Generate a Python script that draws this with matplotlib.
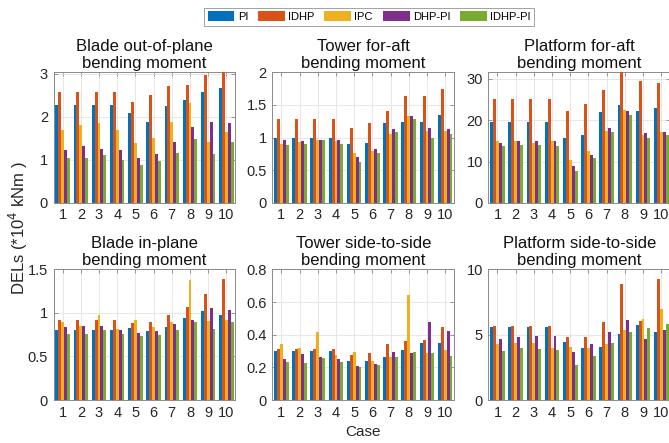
import numpy as np
import matplotlib
matplotlib.use("Agg")
import matplotlib.pyplot as plt
from matplotlib.ticker import FuncFormatter

plt.rcParams['font.family'] = ['Liberation Sans', 'DejaVu Sans']

cases = [1, 2, 3, 4, 5, 6, 7, 8, 9, 10]
controllers = ['PI', 'IDHP', 'IPC', 'DHP-PI', 'IDHP-PI']
colors = ['#0072BD', '#D95319', '#EDB120', '#7E2F8E', '#77AC30']

# rows follow the controller order: PI, IDHP, IPC, DHP-PI, IDHP-PI
blade_oop = [
    [2.28, 2.28, 2.28, 2.28, 2.08, 1.88, 2.25, 2.38, 2.57, 2.66],
    [2.58, 2.58, 2.58, 2.58, 2.35, 2.50, 2.70, 2.74, 2.97, 3.05],
    [1.69, 1.81, 1.86, 1.69, 1.38, 1.51, 1.88, 2.32, 1.41, 1.64],
    [1.23, 1.33, 1.26, 1.23, 1.03, 1.13, 1.42, 1.77, 1.88, 1.85],
    [1.04, 1.04, 1.12, 0.99, 0.87, 0.97, 1.15, 1.48, 1.13, 1.41],
]
tower_fa = [
    [1.00, 1.00, 1.00, 1.00, 0.895, 0.91, 1.22, 1.24, 1.24, 1.345],
    [1.28, 1.28, 1.28, 1.28, 1.14, 1.23, 1.41, 1.63, 1.63, 1.74],
    [0.895, 0.936, 0.967, 0.95, 0.757, 0.80, 1.06, 1.33, 1.10, 1.10],
    [0.956, 0.95, 0.97, 0.956, 0.70, 0.82, 1.13, 1.33, 1.145, 1.13],
    [0.88, 0.895, 0.956, 0.90, 0.62, 0.757, 1.09, 1.28, 1.00, 1.05],
]
platform_fa = [
    [19.5, 19.5, 19.5, 19.5, 15.6, 16.3, 22.0, 23.7, 22.2, 22.9],
    [25.1, 25.1, 25.1, 25.1, 22.3, 24.0, 27.4, 31.6, 29.4, 29.1],
    [14.9, 14.9, 14.6, 14.9, 10.3, 12.5, 17.3, 22.4, 16.5, 17.1],
    [14.6, 14.9, 14.9, 14.9, 8.85, 11.7, 18.0, 22.1, 16.8, 17.1],
    [13.8, 13.9, 13.9, 13.8, 7.8, 10.8, 17.1, 21.2, 15.8, 16.3],
]
blade_ip = [
    [0.807, 0.807, 0.807, 0.807, 0.83, 0.79, 0.84, 0.936, 1.026, 0.98],
    [0.913, 0.913, 0.913, 0.913, 0.883, 0.90, 0.973, 1.064, 1.22, 1.39],
    [0.89, 0.85, 0.973, 0.81, 0.913, 0.837, 0.894, 1.375, 0.905, 0.917],
    [0.833, 0.845, 0.845, 0.80, 0.77, 0.788, 0.871, 0.924, 1.06, 1.034],
    [0.754, 0.754, 0.80, 0.76, 0.73, 0.746, 0.803, 0.898, 0.818, 0.894],
]
tower_ss = [
    [0.303, 0.303, 0.303, 0.303, 0.241, 0.237, 0.266, 0.309, 0.348, 0.348],
    [0.31, 0.31, 0.31, 0.31, 0.276, 0.288, 0.34, 0.364, 0.368, 0.446],
    [0.345, 0.317, 0.417, 0.276, 0.297, 0.241, 0.262, 0.646, 0.286, 0.307],
    [0.25, 0.282, 0.266, 0.252, 0.209, 0.223, 0.294, 0.286, 0.48, 0.425],
    [0.235, 0.225, 0.26, 0.235, 0.20, 0.217, 0.266, 0.297, 0.286, 0.272],
]
platform_ss = [
    [5.58, 5.58, 5.58, 5.58, 4.45, 3.99, 4.04, 5.09, 5.75, 5.19],
    [5.63, 5.63, 5.63, 5.63, 4.80, 4.83, 5.96, 8.85, 6.06, 9.26],
    [4.25, 4.35, 4.40, 3.96, 4.09, 3.99, 4.27, 5.35, 6.21, 6.98],
    [4.70, 4.80, 4.88, 4.88, 3.66, 4.30, 5.17, 6.09, 4.65, 5.37],
    [3.73, 3.99, 3.91, 3.84, 2.66, 3.35, 4.35, 5.17, 5.50, 5.80],
]

panels = [
    ('Blade out-of-plane\nbending moment', blade_oop, 3.03, [0, 1, 2, 3]),
    ('Tower for-aft\nbending moment', tower_fa, 2.0, [0, 0.5, 1, 1.5, 2]),
    ('Platform for-aft\nbending moment', platform_fa, 31.6, [0, 10, 20, 30]),
    ('Blade in-plane\nbending moment', blade_ip, 1.5, [0, 0.5, 1, 1.5]),
    ('Tower side-to-side\nbending moment', tower_ss, 0.8, [0, 0.2, 0.4, 0.6, 0.8]),
    ('Platform side-to-side\nbending moment', platform_ss, 10, [0, 5, 10]),
]

fig = plt.figure(figsize=(6.69, 4.43), dpi=100)

lefts = [0.080, 0.407, 0.730]
width = 0.272
bottoms = [0.542, 0.097]
height = 0.295

x = np.array(cases)
bw = 0.16
axes = []
for i, (title, data, ytop, yticks) in enumerate(panels):
    ax = fig.add_axes([lefts[i % 3], bottoms[i // 3], width, height])
    for k in range(len(controllers)):
        ax.bar(x + (k - 2) * bw, data[k], width=bw, color=colors[k],
               label=controllers[k], linewidth=0, zorder=3)
    ax.set_xlim(0.5, 10.5)
    ax.set_ylim(0, ytop)
    ax.set_xticks(cases)
    ax.set_yticks(yticks)
    ax.yaxis.set_major_formatter(FuncFormatter(lambda v, p: '%g' % v))
    ax.grid(True, color='#e3e3e3', linewidth=0.6, zorder=0)
    ax.tick_params(direction='in', length=3, width=0.6, colors='#888888',
                   labelcolor='#262626', labelsize=10.5, top=True, right=True, pad=4)
    for s in ax.spines.values():
        s.set_color('#8a8a8a')
        s.set_linewidth(0.7)
    ax.set_title(title, fontsize=12, pad=3, color='#111111', linespacing=1.2)
    axes.append(ax)

axes[4].set_xlabel('Case', fontsize=11, color='#262626', labelpad=4)
fig.text(0.027, 0.485, 'DELs (*10$^4$ kNm )', rotation=90, fontsize=12,
         color='#262626', ha='center', va='center')

handles, labels = axes[0].get_legend_handles_labels()
leg = fig.legend(handles, labels, loc='center', bbox_to_anchor=(0.552, 0.962),
                 ncol=5, fontsize=8, frameon=True, fancybox=False,
                 handlelength=2.4, handleheight=1.0, handletextpad=0.3,
                 columnspacing=0.9, borderpad=0.3, borderaxespad=0)
leg.get_frame().set_edgecolor('#8a8a8a')
leg.get_frame().set_linewidth(0.7)

fig.savefig('out.png', dpi=100)
